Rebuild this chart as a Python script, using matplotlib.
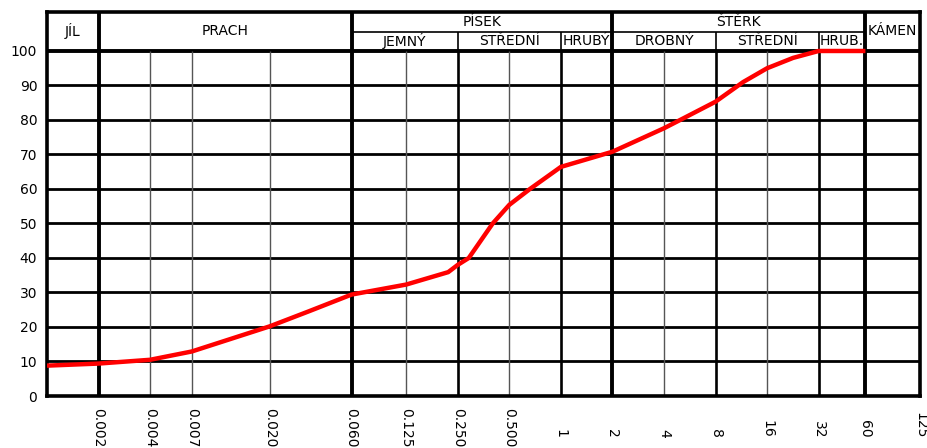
import matplotlib
matplotlib.use('Agg')
import matplotlib.pyplot as plt
import numpy as np
from matplotlib.ticker import NullLocator
from matplotlib.transforms import offset_copy

# zrnitost (mm) a propad (%)
grain_mm = [0.001, 0.002, 0.004, 0.007, 0.020, 0.034, 0.060, 0.125, 0.22, 0.25, 0.29,
            0.40, 0.50, 0.66, 1.0, 2.0, 4.0, 5.2, 8.0, 11.6, 16.0, 22.7, 32.0, 60.0]
passing = [8.8, 9.4, 10.5, 12.9, 20.2, 24.6, 29.4, 32.3, 35.9, 38.0, 40.0,
           50.0, 55.4, 60.0, 66.4, 70.8, 77.6, 80.5, 85.3, 91.0, 95.0, 98.0, 100.0, 100.0]

tick_values = [0.002, 0.004, 0.007, 0.020, 0.060, 0.125, 0.250, 0.500,
               1, 2, 4, 8, 16, 32, 60, 125]
tick_labels = ['0.002', '0.004', '0.007', '0.020', '0.060', '0.125', '0.250', '0.500',
               '1', '2', '4', '8', '16', '32', '60', '125']

major_bounds = [0.002, 0.06, 2, 60]
sub_bounds = [0.25, 1, 8, 32]
minor_lines = [0.004, 0.007, 0.02, 0.125, 0.5, 4, 16]

main_names = ['JÍL', 'PRACH', 'KÁMEN']
main_spans = [(0.001, 0.002), (0.002, 0.06), (60, 125)]
group_names = ['PÍSEK', 'ŠTĚRK']
group_spans = [(0.06, 2), (2, 60)]
sub_names = ['JEMNÝ', 'STŘEDNÍ', 'HRUBÝ', 'DROBNÝ', 'STŘEDNÍ', 'HRUB.']
sub_spans = [(0.06, 0.25), (0.25, 1), (1, 2), (2, 8), (8, 32), (32, 60)]

XMIN, XMAX = 0.001, 125
YTOP = 111.3
YSPLIT = 105.5


def logmid(a, b):
    return np.sqrt(a * b)


fig = plt.figure(figsize=(9.28, 4.48), dpi=100)
ax = fig.add_axes([47 / 928, 52 / 448, 873 / 928, 384 / 448])
ax.set_xscale('log')
ax.set_xlim(XMIN, XMAX)
ax.set_ylim(0, YTOP)
ax.xaxis.set_major_locator(NullLocator())
ax.xaxis.set_minor_locator(NullLocator())
ax.set_yticks(range(0, 101, 10))
ax.tick_params(axis='y', length=0, pad=7, labelsize=10)
for s in ax.spines.values():
    s.set_linewidth(2.6)

# mrizka
ax.hlines(range(10, 100, 10), XMIN, XMAX, colors='black', lw=2.0)
ax.hlines(100, XMIN, XMAX, colors='black', lw=2.8)
ax.vlines(major_bounds, 0, YTOP, colors='black', lw=2.8)
ax.vlines(sub_bounds, 0, 100, colors='black', lw=1.9)
ax.vlines(sub_bounds, 100, YSPLIT, colors='black', lw=1.2)
ax.vlines(minor_lines, 0, 100, colors='#555555', lw=1.0)
ax.hlines(YSPLIT, 0.06, 60, colors='black', lw=1.2)

# krivka zrnitosti
ax.plot(grain_mm, passing, color='#ff0000', lw=3.2, solid_capstyle='butt', zorder=5)

# hlavicka
hfont = dict(fontsize=10, ha='center', va='center', family='DejaVu Sans')
for name, (a, b) in zip(main_names, main_spans):
    ax.text(logmid(a, b), (100 + YTOP) / 2, name, **hfont)
for name, (a, b) in zip(group_names, group_spans):
    ax.text(logmid(a, b), (YSPLIT + YTOP) / 2, name, **hfont)
for name, (a, b) in zip(sub_names, sub_spans):
    ax.text(logmid(a, b), (100 + YSPLIT) / 2, name, **hfont)

# popisky osy x
trans = ax.get_xaxis_transform()
for v, lab in zip(tick_values, tick_labels):
    if v < 1:
        tr = offset_copy(trans, fig=fig, y=-12, units='dots')
        va = 'top'
    else:
        tr = offset_copy(trans, fig=fig, y=-42, units='dots')
        va = 'bottom'
    ax.text(v, 0, lab, transform=tr, rotation=-90, ha='center', va=va,
            fontsize=10, clip_on=False)

fig.savefig('out.png', dpi=100)
